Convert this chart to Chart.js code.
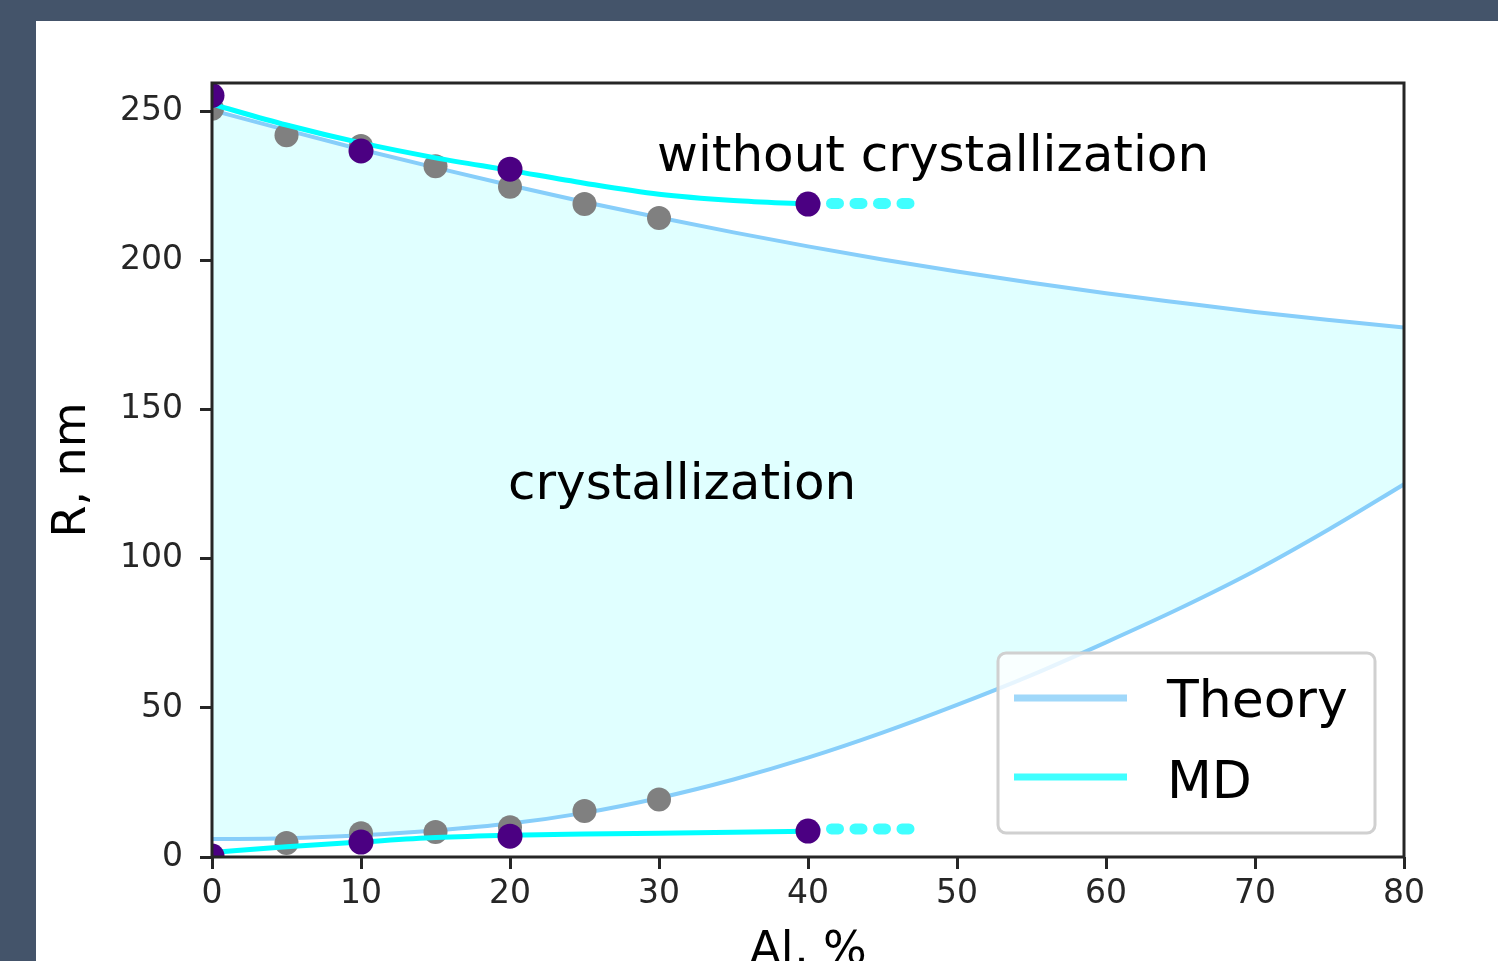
<!DOCTYPE html>
<html><head><meta charset="utf-8">
<script src="https://cdn.jsdelivr.net/npm/chart.js@4.4.1/dist/chart.umd.min.js"></script>
<style>
html,body{margin:0;padding:0;width:1498px;height:961px;overflow:hidden;background:#44546a;}
#wrap{position:absolute;left:36px;top:21px;width:1462px;height:1000px;background:#fff;}
</style></head><body>
<div id="wrap"><canvas id="c"></canvas></div>
<script>
// ---- data ----
const theoryX = [0,5,10,15,20,25,30,35,40,45,50,55,60,65,70,75,80];
const theoryUpper = [250.5,243.8,237.3,231.2,225.3,219.7,214.5,209.5,204.8,200.4,196.4,192.6,189.1,185.9,182.8,180.1,177.6];
const theoryLower = [6.0,6.3,7.3,8.9,11.2,14.8,19.8,26,33.3,41.7,51,61,72,83.5,96,110,125];
const theoryPtUpperX = [0,5,10,15,20,25,30];
const theoryPtUpper = [251,242.1,238.5,231.7,224.8,219,214.3];
const theoryPtLowerX = [5,10,15,20,25,30];
const theoryPtLower = [4.7,8,8.4,10,15.4,19.3];
const mdLineX = [0,5,10,15,20,25,30,35,40];
const mdLineUpper = [252.5,245.5,239.5,234.5,230.3,226,222.3,220.2,219];
const mdLineLower = [1.5,3.4,5,6.5,7.3,7.7,8,8.3,8.6];
const mdPtX = [0,10,20,40];
const mdPtUpper = [255.4,236.8,230.7,219];
const mdPtLower = [0.3,5,7,8.7];
const extX = [40,47];
const extUpper = [219.2,219.2];
const extLower = [9.4,9.4];
const xTicks = [0,10,20,30,40,50,60,70,80];
const yTicks = [0,50,100,150,200,250];
const legendLabels = ['Theory','MD'];
const annoTexts = ['without crystallization','crystallization'];
const annoX = [30,20];
const annoY = [230,120];
const xTitle = 'Al, %';
const yTitle = 'R, nm';

const FONT = '"DejaVu Sans", sans-serif';
const pairs = (xs, ys) => xs.map((x,i)=>({x:x, y:ys[i]}));

const lineDs = (data, color, width, order, extra) => Object.assign({
  data: data, borderColor: color, borderWidth: width, pointRadius: 0,
  fill: false, cubicInterpolationMode: 'monotone', order: order, clip: 0
}, extra || {});
const ptDs = (data, color, r, order) => ({
  data: data, showLine: false, pointRadius: r, pointBackgroundColor: color,
  pointBorderWidth: 0, pointBorderColor: color, order: order, clip: 0
});

const decor = {
  id: 'decor',
  afterDatasetsDraw(chart) {
    const ctx = chart.ctx, ca = chart.chartArea;
    const xs = chart.scales.x, ys = chart.scales.y;
    ctx.save();
    // annotations
    ctx.font = '50px ' + FONT;
    ctx.fillStyle = '#000';
    ctx.textAlign = 'left';
    ctx.textBaseline = 'alphabetic';
    annoTexts.forEach((t,i) => {
      ctx.fillText(t, xs.getPixelForValue(annoX[i]) - 2, ys.getPixelForValue(annoY[i]));
    });
    // spines
    ctx.strokeStyle = '#262626';
    ctx.lineWidth = 3;
    ctx.strokeRect(ca.left, ca.top, ca.right - ca.left, ca.bottom - ca.top);
    // legend
    const bw = 377, bh = 180;
    const bx = ca.right - 29 - bw, by = ca.bottom - 24 - bh;
    ctx.beginPath();
    ctx.roundRect(bx, by, bw, bh, 8);
    ctx.fillStyle = 'rgba(255,255,255,0.8)';
    ctx.fill();
    ctx.strokeStyle = '#d0d0d0';
    ctx.lineWidth = 3;
    ctx.stroke();
    const handleColors = ['#a0d8fa', '#40ffff'];
    const rowY = [45, 124];
    const baseY = [64, 145];
    ctx.font = '52px ' + FONT;
    ctx.fillStyle = '#000';
    legendLabels.forEach((lab,i) => {
      ctx.beginPath();
      ctx.strokeStyle = handleColors[i];
      ctx.lineWidth = 7;
      ctx.lineCap = 'butt';
      ctx.moveTo(bx + 16, by + rowY[i]);
      ctx.lineTo(bx + 129, by + rowY[i]);
      ctx.stroke();
      ctx.fillText(lab, bx + 169, by + baseY[i]);
    });
    ctx.restore();
  }
};

new Chart(document.getElementById('c'), {
  type: 'line',
  data: {
    datasets: [
      lineDs(pairs(theoryX, theoryUpper), '#87cefa', 4, 10, {fill: 1, backgroundColor: '#e0ffff'}),
      lineDs(pairs(theoryX, theoryLower), '#87cefa', 4, 9),
      ptDs(pairs(theoryPtUpperX, theoryPtUpper), '#808080', 12, 8),
      ptDs(pairs(theoryPtLowerX, theoryPtLower), '#808080', 12, 8),
      lineDs(pairs(mdLineX, mdLineUpper), '#00ffff', 5, 6),
      lineDs(pairs(mdLineX, mdLineLower), '#00ffff', 5, 6),
      lineDs(pairs(extX, extUpper), 'rgba(0,255,255,0.75)', 11, 5, {borderDash: [7,16.5], borderCapStyle: 'round', cubicInterpolationMode: 'default'}),
      lineDs(pairs(extX, extLower), 'rgba(0,255,255,0.75)', 11, 5, {borderDash: [7,16.5], borderCapStyle: 'round', cubicInterpolationMode: 'default'}),
      ptDs(pairs(mdPtX, mdPtUpper), '#4b0082', 12.5, 1),
      ptDs(pairs(mdPtX, mdPtLower), '#4b0082', 12.5, 1)
    ]
  },
  options: {
    responsive: true,
    maintainAspectRatio: false,
    animation: false,
    events: [],
    layout: { padding: { left: 0, top: 62, right: 94, bottom: 0 } },
    plugins: { legend: { display: false }, tooltip: { enabled: false } },
    scales: {
      x: {
        type: 'linear', min: 0, max: 80,
        afterBuildTicks: s => { s.ticks = xTicks.map(v => ({value: v})); },
        afterFit: s => { s.height = 164; },
        ticks: { font: { family: FONT, size: 33 }, color: '#262626', padding: 6, maxRotation: 0, autoSkip: false },
        grid: { drawOnChartArea: false, color: 'rgba(0,0,0,0)', tickColor: '#262626', tickLength: 12, tickWidth: 3 },
        border: { display: false },
        title: { display: true, text: xTitle, color: '#000', font: { family: FONT, size: 46 }, padding: { top: 0, bottom: 41 } }
      },
      y: {
        type: 'linear', min: 0, max: 259.6,
        afterBuildTicks: s => { s.ticks = yTicks.map(v => ({value: v})); },
        afterFit: s => { s.width = 176; },
        ticks: { font: { family: FONT, size: 33 }, color: '#262626', padding: 17 },
        grid: { drawOnChartArea: false, color: 'rgba(0,0,0,0)', tickColor: '#262626', tickLength: 12, tickWidth: 3 },
        border: { display: false },
        title: { display: true, text: yTitle, color: '#000', font: { family: FONT, size: 46 }, padding: { top: 9, bottom: 0 } }
      }
    }
  },
  plugins: [decor]
});
</script>
</body></html>
